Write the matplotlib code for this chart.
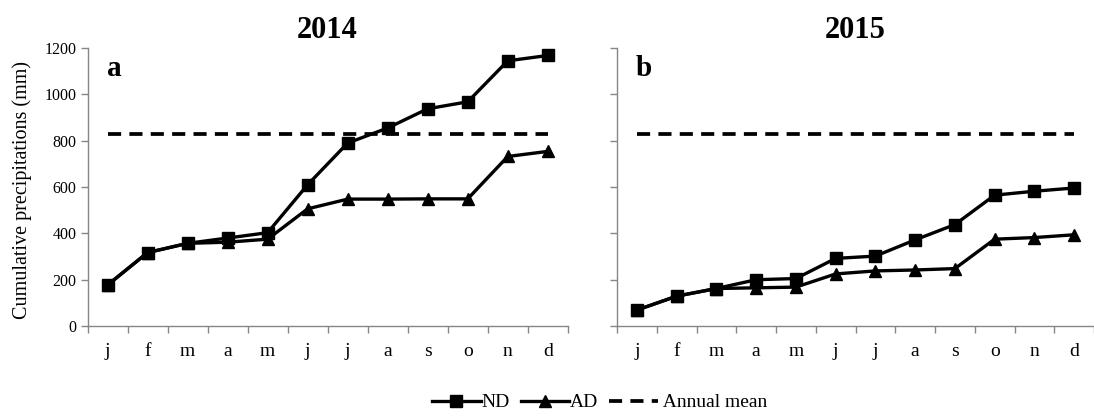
import matplotlib
matplotlib.use("Agg")
import matplotlib.pyplot as plt
import numpy as np

plt.rcParams['font.family'] = ['Liberation Serif', 'DejaVu Serif']

months = ['j', 'f', 'm', 'a', 'm', 'j', 'j', 'a', 's', 'o', 'n', 'd']
years = ['2014', '2015']
panel_letters = ['a', 'b']
nd_2014 = [177, 317, 357, 380, 403, 610, 790, 855, 938, 968, 1145, 1168]
ad_2014 = [177, 317, 357, 362, 375, 506, 548, 548, 549, 549, 732, 754]
nd_2015 = [69, 129, 162, 200, 205, 292, 302, 372, 438, 565, 582, 596]
ad_2015 = [69, 129, 162, 165, 168, 225, 238, 242, 248, 375, 382, 394]
annual_mean = 830

fig = plt.figure(figsize=(10.94, 4.18), dpi=100)
axes = [fig.add_axes([0.080, 0.22, 0.439, 0.665]),
        fig.add_axes([0.564, 0.22, 0.436, 0.665])]

gray = '#868686'
data = [(nd_2014, ad_2014), (nd_2015, ad_2015)]
x = np.arange(len(months))
handles = None
for i, ax in enumerate(axes):
    nd, ad = data[i]
    l1, = ax.plot(x, nd, color='black', lw=2.4, marker='s', ms=9, label='ND')
    l2, = ax.plot(x, ad, color='black', lw=2.4, marker='^', ms=8.5, label='AD')
    l3, = ax.plot([x[0], x[-1]], [annual_mean, annual_mean], color='black', lw=2.7,
                  ls=(0, (3.5, 2.2)), label='Annual mean')
    handles = [l1, l2, l3]
    ax.set_xlim(-0.5, 11.5)
    ax.set_ylim(0, 1200)
    ax.set_yticks(np.arange(0, 1201, 200))
    ax.set_xticks(np.arange(-0.5, 12, 1))
    ax.set_xticklabels([])
    ax.set_xticks(x, minor=True)
    ax.set_xticklabels(months, minor=True, fontsize=14)
    ax.tick_params(axis='x', which='major', direction='out', length=5, color=gray, width=1)
    ax.tick_params(axis='x', which='minor', length=0, pad=12)
    ax.tick_params(axis='y', direction='out', length=5, color=gray, width=1, labelsize=11.5, pad=3)
    for s in ['top', 'right']:
        ax.spines[s].set_visible(False)
    for s in ['left', 'bottom']:
        ax.spines[s].set_color(gray)
        ax.spines[s].set_linewidth(1)
    ax.set_title(years[i], fontsize=22, fontweight='bold', pad=7)
    ax.text(0.04, 0.925, panel_letters[i], transform=ax.transAxes, fontsize=21,
            fontweight='bold', va='center', ha='left')
    if i == 1:
        ax.set_yticklabels([])

axes[0].set_ylabel('Cumulative precipitations (mm)', fontsize=14.5, labelpad=5)
axes[0].yaxis.set_label_coords(-0.115, 0.49)

legend_labels = ['ND', 'AD', ' Annual mean']
fig.legend(handles=handles, labels=legend_labels, loc='center',
           bbox_to_anchor=(0.548, 0.037), ncol=3,
           frameon=False, fontsize=14, handlelength=2.5, handletextpad=0.05,
           columnspacing=0.55)

fig.savefig('out.png', dpi=100)
